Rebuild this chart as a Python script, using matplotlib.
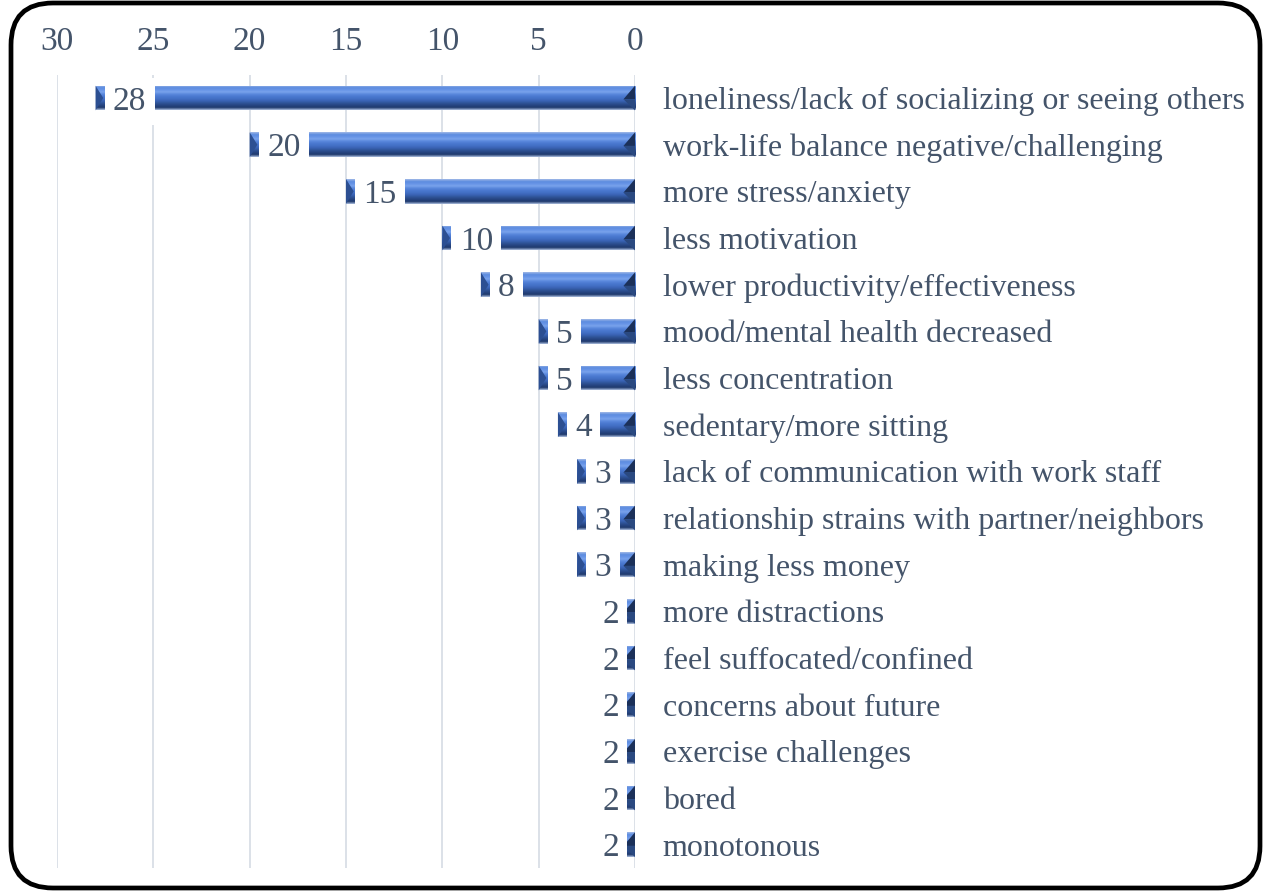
import numpy as np
import matplotlib
matplotlib.use("Agg")
import matplotlib.pyplot as plt
from matplotlib.patches import FancyBboxPatch, Polygon
from matplotlib.colors import to_rgba

categories = [
    "loneliness/lack of socializing or seeing others",
    "work-life balance negative/challenging",
    "more stress/anxiety",
    "less motivation",
    "lower productivity/effectiveness",
    "mood/mental health decreased",
    "less concentration",
    "sedentary/more sitting",
    "lack of communication with work staff",
    "relationship strains with partner/neighbors",
    "making less money",
    "more distractions",
    "feel suffocated/confined",
    "concerns about future",
    "exercise challenges",
    "bored",
    "monotonous",
]
values = [28, 20, 15, 10, 8, 5, 5, 4, 3, 3, 3, 2, 2, 2, 2, 2, 2]
xticks = [30, 25, 20, 15, 10, 5, 0]

TEXT = "#44546A"
FONT = "Liberation Serif"
FS_CAT = 23
FS_NUM = 24

W, H = 1265, 892
fig = plt.figure(figsize=(W / 100, H / 100), dpi=100)
ax_left, ax_right = 57 / W, 635 / W
ax_top, ax_bot = 1 - 74.7 / H, 1 - 868 / H
ax = fig.add_axes([ax_left, ax_bot, ax_right - ax_left, ax_top - ax_bot])

n = len(categories)
ypos = np.arange(n)
bh = 0.53

ax.set_xlim(30, 0)
ax.set_ylim(n - 0.5, -0.5)

for t in xticks:
    ax.axvline(t, color="#d9dee6", lw=1.3, zorder=0)

# vertical gradient (top -> bottom)
stops = ["#9fb8e6", "#5d8ce0", "#6794e6", "#79a3ec", "#5a88dc", "#4b79d0",
         "#4370c6", "#3a63b4", "#2f5397", "#264581", "#1f3a6c", "#a6b8da"]
grad = np.array([to_rgba(c) for c in stops])
fine = np.zeros((48, 1, 4))
xs = np.linspace(0, len(stops) - 1, 48)
for k in range(4):
    fine[:, 0, k] = np.interp(xs, np.arange(len(stops)), grad[:, k])

bars = ax.barh(ypos, values, height=bh, color="#4a78d0", linewidth=0, zorder=2)
for b, v, y in zip(bars, values, ypos):
    im = ax.imshow(fine, extent=(0, v, y + bh / 2, y - bh / 2), aspect="auto",
                   origin="upper", zorder=2.5, interpolation="bilinear")
    im.set_clip_path(b)
    yt, yb = y - bh / 2, y + bh / 2
    bev = 0.6
    # bevel at the base (right end)
    ax.add_patch(Polygon([(0, yt), (bev, y + 0.05 * bh), (0, y + 0.05 * bh)],
                         closed=True, facecolor="#1b3059", edgecolor="none", zorder=2.6))
    ax.add_patch(Polygon([(0, y + 0.05 * bh), (bev, y + 0.05 * bh), (0, yb)],
                         closed=True, facecolor="#2a4980", edgecolor="none", zorder=2.6))
    # bevel at the tip (left end)
    ax.add_patch(Polygon([(v, yt), (v - 0.4, y), (v, yb)],
                         closed=True, facecolor="#2c4f92", edgecolor="none", zorder=2.6))

ax.set_xticks(xticks)
ax.set_xticklabels([str(t) for t in xticks])
ax.xaxis.tick_top()
ax.tick_params(axis="x", length=0, pad=13, labelsize=FS_NUM, labelcolor=TEXT)
ax.set_yticks(ypos)
ax.set_yticklabels(categories)
ax.yaxis.tick_right()
ax.tick_params(axis="y", length=0, pad=20, labelsize=FS_CAT, labelcolor=TEXT)
for lab in ax.get_xticklabels() + ax.get_yticklabels():
    lab.set_fontfamily(FONT)
for s in ax.spines.values():
    s.set_visible(False)

# data labels with white box covering part of the bar
labels = []
for v, y in zip(values, ypos):
    t = ax.annotate(str(v), xy=(v, y), xytext=(12.5, -2.5), textcoords="offset points",
                    ha="left", va="center", fontsize=FS_NUM, family=FONT, color=TEXT,
                    bbox=dict(boxstyle="square,pad=0.25", fc="white", ec="none"),
                    zorder=4)
    labels.append(t)

fig.canvas.draw()
r = fig.canvas.get_renderer()
zero_px = ax.transData.transform((0, 0))[0]
for t in labels:
    bb = t.get_window_extent(r)
    limit = zero_px - 16
    if bb.x1 > limit:
        off = t.xyann
        t.xyann = (off[0] - (bb.x1 - limit) * 72 / fig.dpi, off[1])

border = FancyBboxPatch((11 / 100, (H - 888) / 100), (1260 - 11) / 100, (888 - 3) / 100,
                        boxstyle="round,pad=0,rounding_size=0.42",
                        transform=fig.dpi_scale_trans, fill=False,
                        edgecolor="black", linewidth=3.4, zorder=10)
fig.patches.append(border)

fig.savefig("out.png", dpi=100, facecolor="white")
